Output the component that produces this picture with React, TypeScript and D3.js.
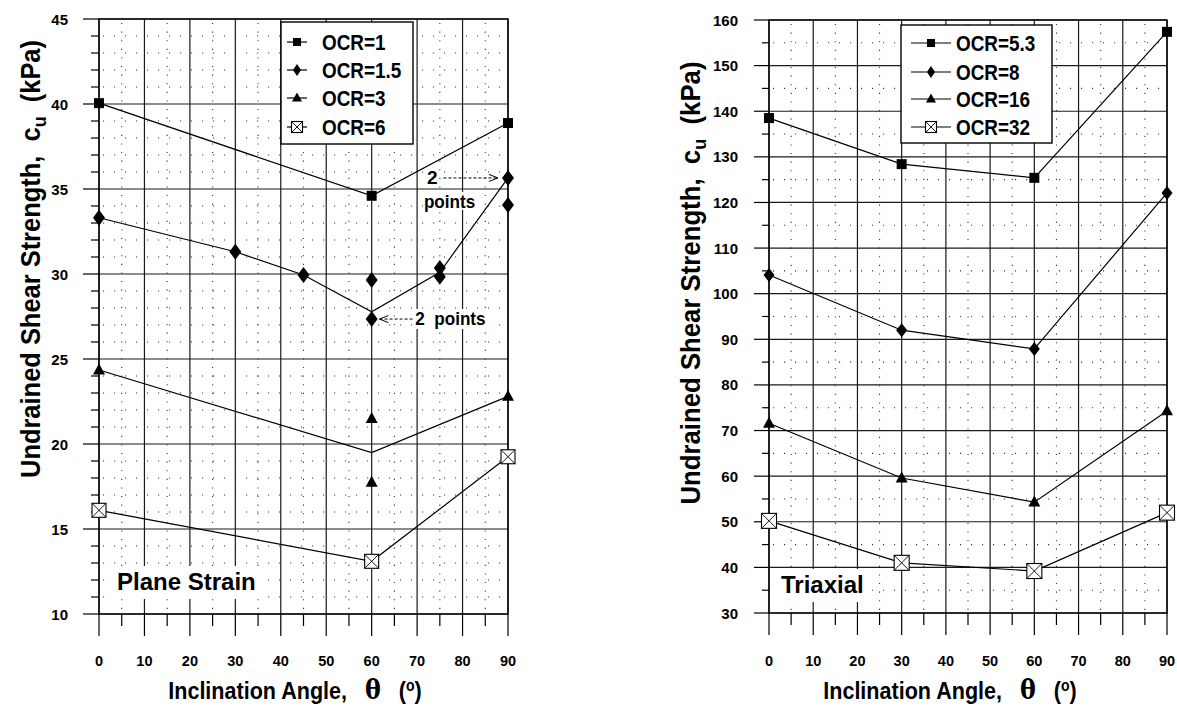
import React from 'react';
import * as d3 from 'd3';

type Pt = [number, number];
type Kind = 'square' | 'diamond' | 'triangle' | 'xsquare';

const FONT = "'Liberation Sans', Arial, Helvetica, sans-serif";

// shared x axis
const xTicks = [0, 10, 20, 30, 40, 50, 60, 70, 80, 90];
const xMinor = [5, 15, 25, 35, 45, 55, 65, 75, 85];

// ---- Plane strain panel ----
const psYTicks = [10, 15, 20, 25, 30, 35, 40, 45];
const psYMinor = d3.range(11, 45).filter(v => v % 5 !== 0);
const psLegend = ['OCR=1', 'OCR=1.5', 'OCR=3', 'OCR=6'];
const psOcr1: Pt[] = [[0, 40.05], [60, 34.6], [90, 38.88]];
const psOcr15Pts: Pt[] = [[0, 33.31], [30, 31.31], [45, 29.94], [60, 29.65], [60, 27.35], [75, 30.35], [75, 29.84], [90, 35.65], [90, 34.06]];
const psOcr15Line: Pt[] = [[0, 33.31], [30, 31.31], [45, 29.94], [60, 27.78], [75, 30.1], [90, 35.65]];
const psOcr3Pts: Pt[] = [[0, 24.35], [60, 21.5], [60, 17.75], [90, 22.8]];
const psOcr3Line: Pt[] = [[0, 24.35], [60, 19.5], [90, 22.8]];
const psOcr6: Pt[] = [[0, 16.1], [60, 13.1], [90, 19.25]];

// ---- Triaxial panel ----
const txYTicks = [30, 40, 50, 60, 70, 80, 90, 100, 110, 120, 130, 140, 150, 160];
const txYMinor = [35, 45, 55, 65, 75, 85, 95, 105, 115, 125, 135, 145, 155];
const txLegend = ['OCR=5.3', 'OCR=8', 'OCR=16', 'OCR=32'];
const txOcr53: Pt[] = [[0, 138.5], [30, 128.4], [60, 125.4], [90, 157.4]];
const txOcr8: Pt[] = [[0, 104.1], [30, 92.0], [60, 87.9], [90, 122.1]];
const txOcr16: Pt[] = [[0, 71.6], [30, 59.6], [60, 54.3], [90, 74.3]];
const txOcr32: Pt[] = [[0, 50.2], [30, 41.0], [60, 39.2], [90, 52.0]];

const kinds: Kind[] = ['square', 'diamond', 'triangle', 'xsquare'];

interface Sizes { sq: number; dw: number; dh: number; tw: number; th: number; xs: number; }

function Marker({ kind, x, y, z }: { kind: Kind; x: number; y: number; z: Sizes }) {
  if (kind === 'square') {
    return <rect x={x - z.sq / 2} y={y - z.sq / 2} width={z.sq} height={z.sq} fill="#000" />;
  }
  if (kind === 'diamond') {
    const w = z.dw / 2, h = z.dh / 2;
    return <path d={`M${x},${y - h}L${x + w},${y}L${x},${y + h}L${x - w},${y}Z`} fill="#000" />;
  }
  if (kind === 'triangle') {
    const w = z.tw / 2, h = z.th;
    return <path d={`M${x},${y - h * 0.6}L${x + w},${y + h * 0.4}L${x - w},${y + h * 0.4}Z`} fill="#000" />;
  }
  const h = z.xs / 2;
  return (
    <g>
      <rect x={x - h} y={y - h} width={z.xs} height={z.xs} fill="#fff" stroke="#000" strokeWidth={1.1} />
      <path d={`M${x - h},${y - h}L${x + h},${y + h}M${x + h},${y - h}L${x - h},${y + h}`} stroke="#000" strokeWidth={0.9} />
    </g>
  );
}

interface Series { kind: Kind; pts: Pt[]; line: Pt[]; }

interface PanelProps {
  box: { l: number; r: number; t: number; b: number };
  yDomain: [number, number];
  yTicks: number[];
  yMinor: number[];
  series: Series[];
  z: Sizes;
  legend: string[];
  legBox: { x: number; y: number; w: number; h: number; symX: number; lineHalf: number; textX: number; rowY: number[] };
  label: { text: string; x: number; y: number; w: number };
  yTitle: { x: number; y: number; len: number };
  xTitleX: number;
  tickLen: { major: number; minor: number };
  children?: (x: d3.ScaleLinear<number, number>, y: d3.ScaleLinear<number, number>) => React.ReactNode;
}

function Panel(p: PanelProps) {
  const { box } = p;
  const x = d3.scaleLinear().domain([0, 90]).range([box.l, box.r]);
  const y = d3.scaleLinear().domain(p.yDomain).range([box.b, box.t]);
  const line = d3.line<Pt>().x(d => x(d[0])).y(d => y(d[1]));
  const legZ: Sizes = { sq: 8, dw: 8, dh: 12, tw: 10, th: 9, xs: 11 };
  const gridCol = '#1a1a1a';

  return (
    <g fontFamily={FONT} fontWeight="bold">
      {/* dotted minor grid */}
      {p.yMinor.map(v => (
        <line key={'dr' + v} x1={box.l + 4} x2={box.r} y1={y(v)} y2={y(v)} stroke="#333" strokeWidth={1.1} strokeDasharray="1.1 9.9" />
      ))}
      {xMinor.map(v => (
        <line key={'dc' + v} x1={x(v)} x2={x(v)} y1={box.t + 4} y2={box.b} stroke="#333" strokeWidth={1.1} strokeDasharray="1.1 7.5" />
      ))}
      {/* major grid */}
      {p.yTicks.map(v => (
        <line key={'gh' + v} x1={box.l} x2={box.r} y1={y(v)} y2={y(v)} stroke={gridCol} strokeWidth={1.2} />
      ))}
      {xTicks.map(v => (
        <line key={'gv' + v} x1={x(v)} x2={x(v)} y1={box.t} y2={box.b} stroke={gridCol} strokeWidth={1.2} />
      ))}
      {/* y ticks */}
      {p.yTicks.map(v => (
        <g key={'yt' + v}>
          <line x1={box.l - p.tickLen.major} x2={box.l} y1={y(v)} y2={y(v)} stroke="#000" strokeWidth={1.2} />
          <text x={box.l - 31} y={y(v)} textAnchor="end" dominantBaseline="central" fontSize={15}>{v}</text>
        </g>
      ))}
      {p.yMinor.map(v => (
        <line key={'ym' + v} x1={box.l - p.tickLen.minor} x2={box.l} y1={y(v)} y2={y(v)} stroke="#000" strokeWidth={1.2} />
      ))}
      {/* x ticks */}
      {xTicks.map(v => (
        <g key={'xt' + v}>
          <line x1={x(v)} x2={x(v)} y1={box.b} y2={box.b + 22} stroke="#000" strokeWidth={1.2} />
          <text x={x(v)} y={661} textAnchor="middle" dominantBaseline="central" fontSize={14.5}>{v}</text>
        </g>
      ))}
      {xMinor.map(v => (
        <line key={'xm' + v} x1={x(v)} x2={x(v)} y1={box.b} y2={box.b + 12} stroke="#000" strokeWidth={1.2} />
      ))}
      {/* frame */}
      <rect x={box.l} y={box.t} width={box.r - box.l} height={box.b - box.t} fill="none" stroke="#000" strokeWidth={1.4} />

      {/* panel label */}
      <rect x={p.label.x - 8} y={p.label.y - 24} width={p.label.w + 16} height={33} fill="#fff" />
      <text x={p.label.x} y={p.label.y} fontSize={24}>{p.label.text}</text>

      {p.children && p.children(x, y)}

      {/* series */}
      {p.series.map((s, i) => (
        <path key={'ln' + i} d={line(s.line) || ''} fill="none" stroke="#000" strokeWidth={1.2} />
      ))}
      {p.series.map((s, i) => (
        <g key={'mk' + i}>
          {s.pts.map((d, j) => <Marker key={j} kind={s.kind} x={x(d[0])} y={y(d[1])} z={p.z} />)}
        </g>
      ))}

      {/* legend */}
      <rect x={p.legBox.x} y={p.legBox.y} width={p.legBox.w} height={p.legBox.h} fill="#fff" stroke="#000" strokeWidth={1.4} />
      {p.legend.map((name, i) => (
        <g key={'lg' + i}>
          <line x1={p.legBox.symX - p.legBox.lineHalf} x2={p.legBox.symX + p.legBox.lineHalf} y1={p.legBox.rowY[i]} y2={p.legBox.rowY[i]} stroke="#000" strokeWidth={1.2} />
          <Marker kind={kinds[i]} x={p.legBox.symX} y={p.legBox.rowY[i]} z={legZ} />
          <text transform={`translate(${p.legBox.textX},${p.legBox.rowY[i]}) scale(0.86,1)`} dominantBaseline="central" fontSize={22}>{name}</text>
        </g>
      ))}

      {/* axis titles */}
      <text transform={`translate(${p.yTitle.x},${p.yTitle.y}) rotate(-90)`} textAnchor="middle" fontSize={27}
        textLength={p.yTitle.len} lengthAdjust="spacingAndGlyphs">
        Undrained Shear Strength,{'\u00a0\u00a0'}c<tspan fontSize={19} dy={6}>u</tspan><tspan dy={-6}>{'\u00a0\u00a0'}(kPa)</tspan>
      </text>
      <text transform={`translate(${p.xTitleX},699) scale(0.88,1)`} textAnchor="middle" fontSize={24.5}>
        Inclination Angle,{'\u00a0\u00a0\u00a0'}<tspan fontSize={27} fontFamily="'DejaVu Serif', serif">θ</tspan>{'\u00a0\u00a0\u00a0'}(<tspan fontSize={16} dy={-8}>o</tspan><tspan dy={8}>)</tspan>
      </text>
    </g>
  );
}

function Arrow({ x1, x2, y, dir }: { x1: number; x2: number; y: number; dir: 1 | -1 }) {
  // arrow tip at x2
  return (
    <g stroke="#000" strokeWidth={1} fill="none">
      <line x1={x1} x2={x2} y1={y} y2={y} strokeDasharray="3 2" />
      <path d={`M${x2 - dir * 9},${y - 3.5}L${x2},${y}L${x2 - dir * 9},${y + 3.5}`} />
    </g>
  );
}

export default function App() {
  return (
    <svg width={1177} height={706} style={{ position: 'absolute', left: 0, top: 0, background: '#fff' }}>
      <rect width={1177} height={706} fill="#fff" />
      <Panel
        box={{ l: 99, r: 508, t: 19, b: 614 }}
        yDomain={[10, 45]}
        yTicks={psYTicks}
        yMinor={psYMinor}
        series={[
          { kind: 'square', pts: psOcr1, line: psOcr1 },
          { kind: 'diamond', pts: psOcr15Pts, line: psOcr15Line },
          { kind: 'triangle', pts: psOcr3Pts, line: psOcr3Line },
          { kind: 'xsquare', pts: psOcr6, line: psOcr6 },
        ]}
        z={{ sq: 10, dw: 12, dh: 16, tw: 12, th: 11, xs: 14 }}
        legend={psLegend}
        legBox={{ x: 281, y: 22, w: 132, h: 122, symX: 297, lineHalf: 10, textX: 322, rowY: [42, 70, 98, 127] }}
        label={{ text: 'Plane Strain', x: 117, y: 590, w: 142 }}
        yTitle={{ x: 40, y: 259, len: 438 }}
        xTitleX={295}
        tickLen={{ major: 16, minor: 8 }}
      >
        {(x, y) => (
          <g>
            <rect x={x(69)} y={y(27.35) - 10} width={80} height={20} fill="#fff" />
            <Arrow x1={x(69)} x2={x(61.7)} y={y(27.35)} dir={-1} />
            <text transform={`translate(${x(69.6)},${y(27.35)}) scale(0.9,1)`} dominantBaseline="central" fontSize={19}>2{'\u00a0\u00a0'}points</text>
            <rect x={x(72)} y={y(35.65) - 9} width={12} height={18} fill="#fff" />
            <text x={x(72.2)} y={y(35.65)} dominantBaseline="central" fontSize={19}>2</text>
            <Arrow x1={x(75.8)} x2={x(87.8)} y={y(35.65)} dir={1} />
            <rect x={x(71.3)} y={y(34.3) - 9} width={58} height={18} fill="#fff" />
            <text transform={`translate(${x(71.5)},${y(34.25)}) scale(0.9,1)`} dominantBaseline="central" fontSize={19}>points</text>
          </g>
        )}
      </Panel>
      <Panel
        box={{ l: 769, r: 1167, t: 20, b: 613 }}
        yDomain={[30, 160]}
        yTicks={txYTicks}
        yMinor={txYMinor}
        series={[
          { kind: 'square', pts: txOcr53, line: txOcr53 },
          { kind: 'diamond', pts: txOcr8, line: txOcr8 },
          { kind: 'triangle', pts: txOcr16, line: txOcr16 },
          { kind: 'xsquare', pts: txOcr32, line: txOcr32 },
        ]}
        z={{ sq: 10, dw: 11, dh: 14, tw: 12, th: 11, xs: 15 }}
        legend={txLegend}
        legBox={{ x: 901, y: 25, w: 151, h: 118, symX: 931, lineHalf: 20, textX: 956, rowY: [43, 72, 99, 127] }}
        label={{ text: 'Triaxial', x: 781, y: 593, w: 81 }}
        yTitle={{ x: 700, y: 283, len: 443 }}
        xTitleX={950}
        tickLen={{ major: 15, minor: 7 }}
      />
    </svg>
  );
}
